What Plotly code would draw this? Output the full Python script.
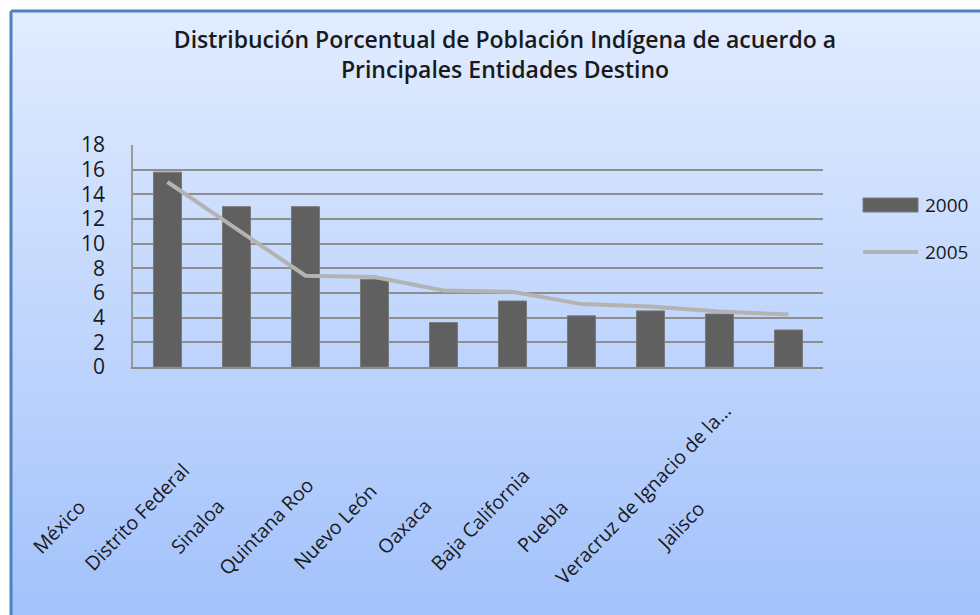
import base64, struct, zlib
import plotly.graph_objects as go

# ---------------- data ----------------
categories = ["México", "Distrito Federal", "Sinaloa", "Quintana Roo", "Nuevo León",
              "Oaxaca", "Baja California", "Puebla", "Veracruz de Ignacio de la…", "Jalisco"]
values_2000 = [15.8, 13.0, 13.0, 7.1, 3.6, 5.35, 4.15, 4.55, 4.3, 3.0]
values_2005 = [15.0, 11.2, 7.4, 7.3, 6.2, 6.1, 5.1, 4.9, 4.5, 4.25]
series_names = ["2000", "2005"]
y_ticks = list(range(0, 19, 2))
title_lines = ["Distribución Porcentual de Población Indígena de acuerdo a",
               "Principales Entidades Destino"]

# ---------------- layout constants ----------------
W, H = 980, 615
ML, MR, MT, MB = 133, 157, 145, 248
PW, PH = W - ML - MR, H - MT - MB
FONT = "Open Sans, Noto Sans, sans-serif"
BAR_COLOR = "#606060"
LINE_COLOR = "#b3b3b3"


def px_x(px):
    return (px - ML) / PW


def px_y(py):
    return (H - MB - py) / PH


def gradient_png(top, bottom, h=256, w=2):
    rows = b""
    for i in range(h):
        t = i / (h - 1)
        c = bytes(round(top[k] + (bottom[k] - top[k]) * t) for k in range(3))
        rows += b"\x00" + c * w

    def chunk(tag, data):
        return (struct.pack(">I", len(data)) + tag + data +
                struct.pack(">I", zlib.crc32(tag + data) & 0xffffffff))

    png = (b"\x89PNG\r\n\x1a\n" +
           chunk(b"IHDR", struct.pack(">IIBBBBB", w, h, 8, 2, 0, 0, 0)) +
           chunk(b"IDAT", zlib.compress(rows)) + chunk(b"IEND", b""))
    return "data:image/png;base64," + base64.b64encode(png).decode()


fig = go.Figure()
fig.add_trace(go.Bar(x=categories, y=values_2000, name=series_names[0],
                     marker=dict(color=BAR_COLOR, line=dict(color="#7a7a7a", width=1)),
                     showlegend=False))
fig.add_trace(go.Scatter(x=categories, y=values_2005, name=series_names[1], mode="lines",
                         line=dict(color=LINE_COLOR, width=4), showlegend=False))

# background gradient + frame
border = 11
fig.add_layout_image(dict(source=gradient_png((225, 236, 255), (163, 194, 251)),
                          xref="paper", yref="paper", x=px_x(border), y=px_y(border),
                          sizex=px_x(W) - px_x(border), sizey=px_y(border) - px_y(H),
                          xanchor="left", yanchor="top", sizing="stretch", layer="below"))
frame = dict(color="#4f81bd", width=3)
fig.add_shape(type="line", xref="paper", yref="paper", x0=px_x(border), x1=px_x(W + 5),
              y0=px_y(border), y1=px_y(border), line=frame)
fig.add_shape(type="line", xref="paper", yref="paper", x0=px_x(border), x1=px_x(border),
              y0=px_y(border), y1=px_y(H + 5), line=frame)

# rotated category labels (Excel-style placement)
for i, lab in enumerate(categories):
    s = max(0, len(lab) - 12) * 3.3
    fig.add_annotation(x=lab, xref="x", y=px_y(526), yref="paper", text=lab,
                       showarrow=False, textangle=-46, xanchor="center", yanchor="middle",
                       xshift=-109 + s * 0.707, yshift=s * 0.707,
                       font=dict(family=FONT, size=19.5, color="#1a1a1a"))

# custom legend
lx0, lx1 = 863, 918
fig.add_shape(type="rect", xref="paper", yref="paper", x0=px_x(lx0), x1=px_x(lx1),
              y0=px_y(212), y1=px_y(198), fillcolor=BAR_COLOR,
              line=dict(color="#7a7a7a", width=1))
fig.add_shape(type="line", xref="paper", yref="paper", x0=px_x(lx0), x1=px_x(lx1),
              y0=px_y(252), y1=px_y(252), line=dict(color=LINE_COLOR, width=4))
for name, yc in zip(series_names, [205, 252]):
    fig.add_annotation(x=px_x(923), y=px_y(yc), xref="paper", yref="paper", text=name,
                       showarrow=False, xanchor="left", yanchor="middle",
                       font=dict(family=FONT, size=19, color="#1a1a1a"))

fig.update_layout(
    width=W, height=H,
    margin=dict(l=ML, r=MR, t=MT, b=MB, autoexpand=False),
    paper_bgcolor="white", plot_bgcolor="#e6e6e6",
    bargap=0.594,
    showlegend=False,
    title=dict(text="<br>".join(title_lines), x=505 / W, xanchor="center",
               y=1 - 48 / H, yanchor="middle",
               font=dict(family=FONT, size=23, color="#1a1a1a", weight=600)),
    xaxis=dict(range=[-0.5, len(categories) - 0.5], showticklabels=False, ticks="",
               showgrid=False, showline=True, linecolor="#8a8a8a", linewidth=2,
               zeroline=False, fixedrange=True),
    yaxis=dict(range=[0, 18], tickvals=y_ticks, ticks="", showgrid=True,
               gridcolor="#8e8e8e", gridwidth=1.5, showline=True, linecolor="#9a9a9a",
               linewidth=1.5, zeroline=False, ticklabelstandoff=22,
               tickfont=dict(family=FONT, size=21, color="#1a1a1a")),
)

fig.write_html("out.html", config={"displayModeBar": False},
               post_script="document.body.style.margin='0px';")
